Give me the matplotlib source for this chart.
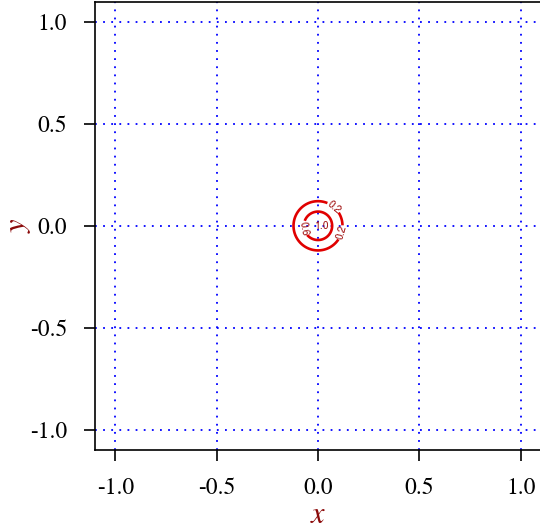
import numpy as np
import matplotlib
matplotlib.use("Agg")
import matplotlib.pyplot as plt

# Surface: a narrow bell centred on the origin
peak_height = 1.04
spread = 0.0665          # standard deviation of the bell
centre = (0.0, 0.0)
ring_levels = [0.2, 0.6]
top_level = [1.0]
ring_label_spots = [(0.074, 0.088), (0.116, -0.034), (-0.07, -0.012)]
top_label_spot = [(0.0, 0.0)]

tick_values = [-1.0, -0.5, 0.0, 0.5, 1.0]
tick_labels = ["-1.0", "-0.5", "0.0", "0.5", "1.0"]

plt.rcParams["font.family"] = ["TeX Gyre Termes", "Liberation Serif", "DejaVu Serif"]

fig = plt.figure(figsize=(5.40, 5.31), dpi=100)
ax = fig.add_axes([95 / 540, 81 / 531, 446 / 540, 448.4 / 531])

gx = np.linspace(-1.1, 1.1, 661)
gy = np.linspace(-1.1, 1.1, 661)
X, Y = np.meshgrid(gx, gy)
Z = peak_height * np.exp(-((X - centre[0]) ** 2 + (Y - centre[1]) ** 2) / (2 * spread ** 2))

ax.set_xlim(-1.1, 1.1)
ax.set_ylim(-1.1, 1.1)

ax.set_xticks(tick_values)
ax.set_xticklabels(tick_labels)
ax.set_yticks(tick_values)
ax.set_yticklabels(tick_labels)

ax.grid(True, color="blue", linestyle=(0, (1, 3.5)), linewidth=1.3)
ax.set_axisbelow(True)

label_family = ["TeX Gyre Heros", "DejaVu Sans"]

rings = ax.contour(X, Y, Z, levels=ring_levels, colors="#e00000", linewidths=1.9)
ring_labels = ax.clabel(rings, inline=True, fontsize=7.5, fmt="%.1f",
                        colors="#a01010", inline_spacing=1,
                        manual=ring_label_spots)

# the innermost ring is smaller than its own label, so only the label shows
summit = ax.contour(X, Y, Z, levels=top_level, colors="#e00000", linewidths=0)
summit_labels = ax.clabel(summit, inline=False, fontsize=7.5, fmt="%.1f",
                          colors="#a01010", manual=top_label_spot)

for t in list(ring_labels) + list(summit_labels):
    t.set_family(label_family)
for t in summit_labels:
    t.set_rotation(0)

ax.tick_params(axis="both", direction="out", length=8, width=1.2,
               labelsize=17, pad=12, colors="black")
for side in ("top", "right", "bottom", "left"):
    ax.spines[side].set_linewidth(1.2)

ax.set_xlabel("x", fontsize=22, style="italic", color="#8b0a0a")
ax.set_ylabel("y", fontsize=22, style="italic", color="#8b0a0a", rotation=90)
ax.xaxis.set_label_coords(0.5, -0.145)
ax.xaxis.label.set_va("center")
ax.yaxis.set_label_coords(-0.172, 0.5)
ax.yaxis.label.set_va("center")

fig.savefig("out.png", dpi=100)
